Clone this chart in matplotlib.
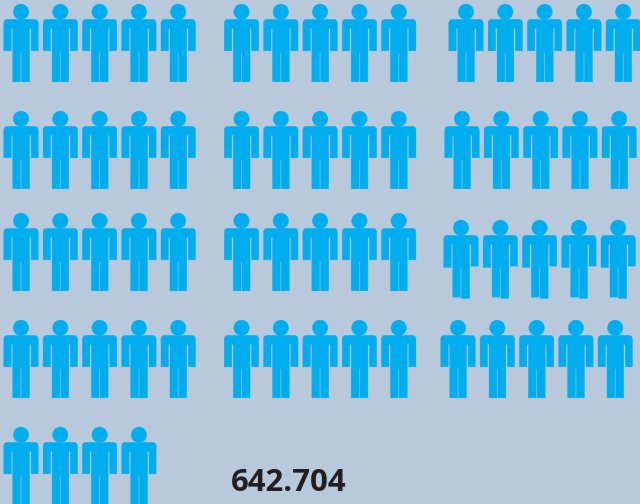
import matplotlib
matplotlib.use("Agg")
import matplotlib.pyplot as plt
from matplotlib.patches import Circle, PathPatch
from matplotlib.path import Path

# figures per block, one row per line of the picture
fila_1 = [5, 5, 5]
fila_2 = [5, 5, 5]
fila_3 = [5, 5, 5]
fila_4 = [5, 5, 5]
fila_5 = [4, 0, 0]
filas = [fila_1, fila_2, fila_3, fila_4, fila_5]
total = "642.704"

FONDO = "#b7c9db"
AZUL = "#00aeef"

# layout
y_filas = [4, 111, 213, 320, 427]
x_bloques = [21, 241.5, None]
x_tercero = [466, 462, 461, 458, 458]  # third block drifts left going down
y_extra_tercero = [0, 0, 7, 0, 0]
paso = 39.3


def persona(ax, cx, top, ajuste=0):
    # silhouette drawn relative to the head centre, y downwards
    ax.add_patch(Circle((cx, top + 7.8), 7.7, fc=AZUL, ec=AZUL, lw=0.3))
    a = ajuste
    verts = [
        (-17.2, 19.3), (-17.2, 15.4), (-13.5, 15.4),
        (13.5, 15.4), (17.2, 15.4), (17.2, 19.3),
        (17.2, 46.8 - a), (10.1, 46.8 - a), (10.1, 24.2), (8.5, 24.2),
        (8.5, 77.8 + a), (0.5, 77.8 + a), (0.5, 48.8), (-0.5, 48.8),
        (-0.5, 77.8 - a), (-8.2, 77.8 - a), (-8.2, 24.2), (-9.8, 24.2),
        (-9.8, 46.8 + a), (-17.2, 46.8 + a), (-17.2, 19.3),
    ]
    codes = [Path.MOVETO, Path.CURVE3, Path.CURVE3, Path.LINETO, Path.CURVE3, Path.CURVE3]
    codes += [Path.LINETO] * (len(verts) - len(codes))
    puntos = [(cx + x, top + y) for x, y in verts]
    ax.add_patch(PathPatch(Path(puntos, codes), fc=AZUL, ec=AZUL, lw=0.3))


fig = plt.figure(figsize=(6.4, 5.04), dpi=100, facecolor=FONDO)
ax = fig.add_axes([0, 0, 1, 1])
ax.set_xlim(0, 640)
ax.set_ylim(504, 0)
ax.axis("off")

for i, fila in enumerate(filas):
    for b, n in enumerate(fila):
        x0 = x_tercero[i] if b == 2 else x_bloques[b]
        y0 = y_filas[i]
        ajuste = 0
        if b == 2:
            y0 += y_extra_tercero[i]
            ajuste = 0.7 if y_extra_tercero[i] else 0
        for k in range(n):
            persona(ax, x0 + k * paso, y0, ajuste)

ax.text(289, 491, total, ha="center", va="baseline", fontsize=22.4, fontweight="bold",
        family="Open Sans", color="#231f20")

fig.savefig("out.png", dpi=100, facecolor=FONDO)
